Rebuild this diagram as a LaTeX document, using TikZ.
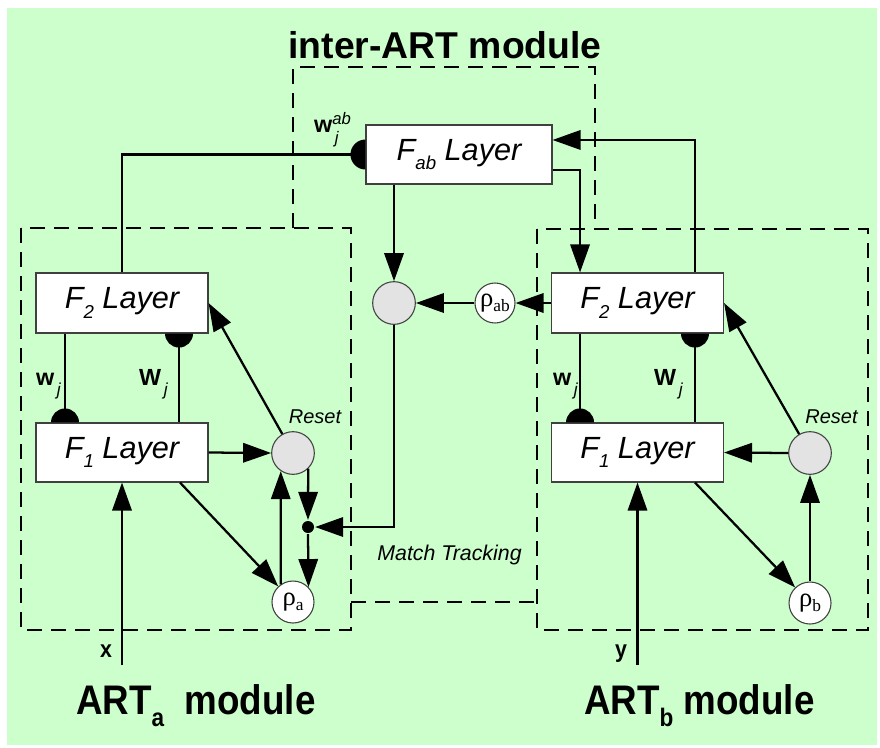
\documentclass[tikz,border=0pt]{standalone}
\usepackage{fontspec}
\setmainfont{Liberation Sans}
\newfontfamily\narrowfont[FakeStretch=0.89]{Liberation Sans}
\newfontfamily\rhofont{Liberation Serif}
\usetikzlibrary{arrows.meta,calc}

\definecolor{bggreen}{HTML}{CCFFCC}
\definecolor{cellgray}{HTML}{E3E3E3}

% subscript of a layer name (F_1, F_2, F_ab)
\newcommand\lsub[1]{\raisebox{-7pt}{\fontsize{14}{14}\selectfont #1}}
% weight labels: bold letter, italic index below
\newcommand\jsub{\hspace{2pt}\raisebox{-7.5pt}{\fontsize{13}{13}\selectfont\mdseries\itshape j}}
% vigilance parameters in the small white circles
\newcommand\rhotext[1]{{\rhofont\fontsize{20}{20}\selectfont ρ\raisebox{-4pt}{\fontsize{13}{13}\selectfont #1}}}
% module captions
\newcommand\modsub[1]{\raisebox{-9pt}{\fontsize{19}{19}\selectfont #1}}

\begin{document}
\begin{tikzpicture}[x=0.75pt,y=-0.75pt,
  line width=1.7pt,
  >={Triangle[length=21pt,width=14.5pt]},
  layer/.style={draw=black!75,line width=0.8pt,fill=white,
    minimum width=129pt,minimum height=45pt,inner sep=0pt,
    font=\fontsize{23}{26}\selectfont\itshape},
  cell/.style={circle,draw=black!75,line width=0.8pt,fill=cellgray,
    minimum size=32pt,inner sep=0pt},
  rhocell/.style={circle,draw=black!75,line width=0.8pt,fill=white,
    minimum size=31.5pt,inner sep=0pt},
  junction/.style={circle,fill=black,minimum size=9pt,inner sep=0pt},
  dashbox/.style={line width=1.7pt,dash pattern=on 11.5pt off 6.5pt},
  weightlbl/.style={font=\fontsize{17.5}{18}\selectfont\bfseries,inner sep=0pt},
  notelbl/.style={font=\fontsize{15}{16}\selectfont\itshape,inner sep=0pt},
  iolbl/.style={font=\narrowfont\fontsize{18}{18}\selectfont\bfseries,inner sep=0pt},
  modlbl/.style={font=\narrowfont\fontsize{31}{32}\selectfont\bfseries,inner sep=0pt}]

% canvas
\fill[white] (0,0) rectangle (880,747);
\fill[bggreen] (7,8) rectangle (877,745);
\useasboundingbox (0,0) rectangle (880,747);

% module outlines
\draw[dashbox] (21,228) rectangle (351,630);
\draw[dashbox] (537,229) rectangle (868,630);
\draw[dashbox] (293,228) -- (293,67) -- (595,67) -- (595,229);
\draw[dashbox] (351,602) -- (537,602);

% layers
\node[layer,minimum width=139.5pt,minimum height=44.25pt] (fab) at (459,154.5) {F\lsub{ab} Layer};
\node[layer] (f2a) at (122,303) {F\lsub{2} Layer};
\node[layer,minimum height=44.25pt] (f1a) at (122,452.5) {F\lsub{1} Layer};
\node[layer] (f2b) at (637.5,303) {F\lsub{2} Layer};
\node[layer,minimum height=44.25pt] (f1b) at (637.5,452.5) {F\lsub{1} Layer};

% orienting cells and vigilance parameters
\node[cell] (mt) at (394,303) {};
\node[rhocell,minimum size=30pt] (rab) at (495,303) {\rhotext{ab}};
\node[cell] (reseta) at (293,453) {};
\node[cell] (resetb) at (810,453) {};
\node[rhocell] (ra) at (293,602) {\rhotext{a}};
\node[rhocell] (rb) at (810,603) {\rhotext{b}};
\node[junction] (dot) at (308,527) {};
\coordinate (xin) at (122,665);
\coordinate (yin) at (637.5,665);

% map field connections
\draw (f2a.north) |- (fab.west);
\fill ([yshift=11.25pt]fab.west) arc[start angle=90,end angle=270,radius=11.25pt] -- cycle;
\draw[->] ([xshift=43.1pt]f2b.north) |- ([yshift=10.9pt]fab.east);
\draw[->] ([yshift=-11.6pt]fab.east) -| ([xshift=-43.1pt]f2b.north);
\draw[->] (fab.south -| mt) -- (mt.north);
\draw[->] (f2b.west) -- (rab.east);
\draw[->] (rab.west) -- (mt.east);
\draw[->] (mt.south) |- (dot.east);

% ART_a
\draw ([xshift=-42.75pt]f2a.south) -- ([xshift=-42.75pt]f1a.north);
\fill ([xshift=-53.25pt]f1a.north) arc[start angle=180,end angle=0,radius=10.5pt] -- cycle;
\draw ([xshift=42.75pt]f1a.north) -- ([xshift=42.75pt]f2a.south);
\fill ([xshift=32.25pt]f2a.south) arc[start angle=180,end angle=360,radius=10.5pt] -- cycle;
\draw[->] (f1a.east) -- (reseta.west);
\draw[->] (reseta) -- (f2a.east);
\draw[->] ([xshift=43.5pt]f1a.south) -- (ra);
\draw[->] (ra.125) -- (reseta.236);
\draw[->] (reseta.314) -- (dot.north);
\draw[->] (dot.south) -- (ra.44);
\draw[->] (xin) -- (f1a.south);

% ART_b
\draw ([xshift=-43.1pt]f2b.south) -- ([xshift=-43.1pt]f1b.north);
\fill ([xshift=-53.6pt]f1b.north) arc[start angle=180,end angle=0,radius=10.5pt] -- cycle;
\draw ([xshift=43.1pt]f1b.north) -- ([xshift=43.1pt]f2b.south);
\fill ([xshift=32.6pt]f2b.south) arc[start angle=180,end angle=360,radius=10.5pt] -- cycle;
\draw[->] (resetb.west) -- (f1b.east);
\draw[->] (resetb) -- (f2b.east);
\draw[->] ([xshift=43.1pt]f1b.south) -- (rb);
\draw[->] (rb.north) -- (resetb.south);
\draw[->] (yin) -- (f1b.south);

% labels
\node[font=\fontsize{28}{30}\selectfont\bfseries,inner sep=0pt,anchor=base] (tinter) at (445,58) {inter-ART module};
\node[weightlbl,anchor=base west] (wab) at (313,132)
  {w\rlap{\raisebox{5.5pt}{\fontsize{12.5}{13}\selectfont\mdseries\itshape ab}}\hspace{2pt}\raisebox{-8.5pt}{\fontsize{12.5}{13}\selectfont\mdseries\itshape j}};
\node[weightlbl,anchor=base west] (wa) at (35,385) {w\jsub};
\node[weightlbl,anchor=base west] (Wa) at (138,385) {W\jsub};
\node[weightlbl,anchor=base west] (wb) at (552,385) {w\jsub};
\node[weightlbl,anchor=base west] (Wb) at (653,385) {W\jsub};
\node[notelbl,anchor=base] (rsa) at (315,423) {Reset};
\node[notelbl,anchor=base] (rsb) at (831.5,423) {Reset};
\node[notelbl,font=\fontsize{16}{17}\selectfont\itshape,anchor=base] (mtl) at (449.5,560) {Match Tracking};
\node[iolbl,anchor=base] (xl) at (106,657) {x};
\node[iolbl,anchor=base] (yl) at (621,657) {y};
\node[modlbl,anchor=base west] (arta) at (75,714) {ART\modsub{a}\ \ module};
\node[modlbl,anchor=base west] (artb) at (583,714) {ART\modsub{b} module};

\end{tikzpicture}
\end{document}
